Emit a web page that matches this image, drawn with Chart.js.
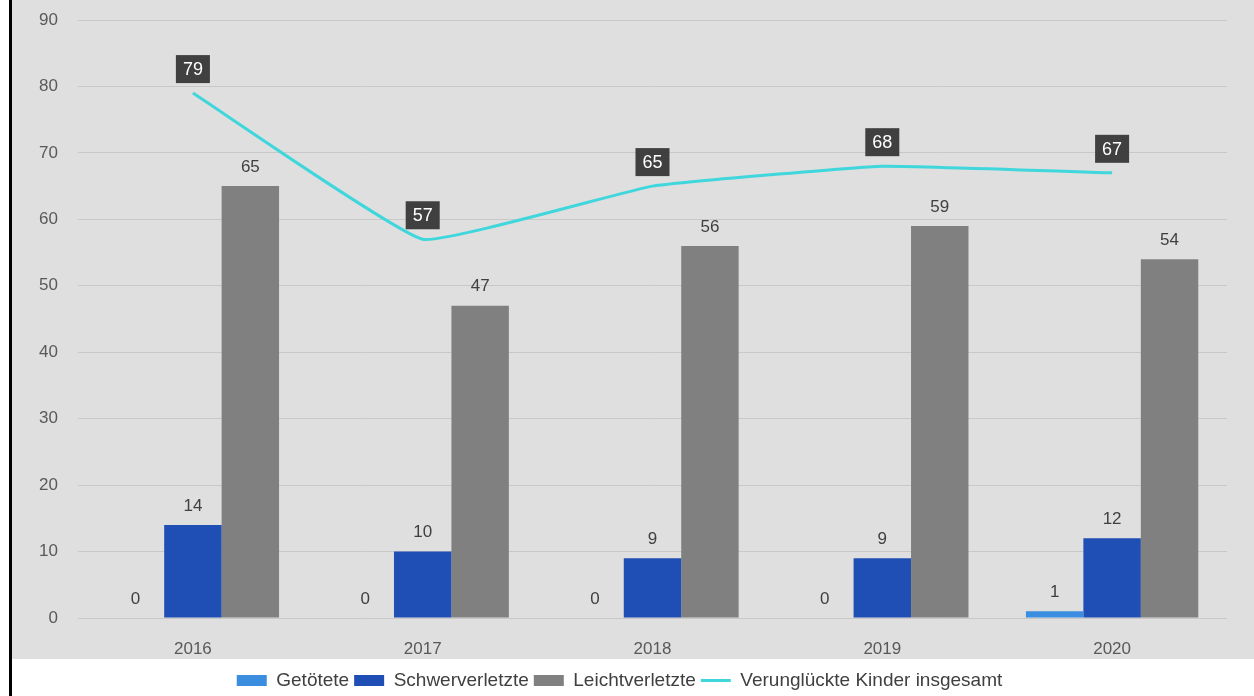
<!DOCTYPE html>
<html lang="de">
<head>
<meta charset="utf-8">
<title>Verunglückte Kinder 2016–2020</title>
<script src="https://cdn.jsdelivr.net/npm/chart.js@4/dist/chart.umd.min.js"></script>
<style>
    html, body { margin: 0; padding: 0; background: #fff; }
    #rand {
        position: absolute; left: 9px; top: 0;
        width: 3px; height: 696px; background: #000;
    }
    #wrap {
        position: absolute; left: 12px; top: 0;
        width: 1242px; height: 696px;
        background: linear-gradient(#dfdfdf 0, #dfdfdf 659px, #fff 659px);
    }
</style>
</head>
<body>
<div id="rand"></div>
<div id="wrap"><canvas id="kinder-chart"></canvas></div>
<script>
// Jahre und Werte
const jahre = ['2016', '2017', '2018', '2019', '2020'];
const getoetete = [0, 0, 0, 0, 1];
const schwerverletzte = [14, 10, 9, 9, 12];
const leichtverletzte = [65, 47, 56, 59, 54];
const insgesamt = [79, 57, 65, 68, 67];

const schrift = "'Liberation Sans', Arial, sans-serif";

// Beschriftungen über Balken und Linienpunkten
const wertLabels = {
    id: 'wertLabels',
    afterDatasetsDraw(chart) {
        const ctx = chart.ctx;
        ctx.save();
        ctx.textAlign = 'center';
        ctx.textBaseline = 'middle';
        chart.data.datasets.forEach((ds, i) => {
            const meta = chart.getDatasetMeta(i);
            meta.data.forEach((el, j) => {
                const text = String(ds.data[j]);
                if (ds.type === 'line') {
                    ctx.font = '18px ' + schrift;
                    const w = ctx.measureText(text).width + 14;
                    const h = 28;
                    const cy = el.y - 24;
                    ctx.fillStyle = '#404040';
                    ctx.fillRect(el.x - w / 2, cy - h / 2, w, h);
                    ctx.fillStyle = '#ffffff';
                    ctx.fillText(text, el.x, cy + 1);
                } else {
                    ctx.font = '17px ' + schrift;
                    ctx.fillStyle = '#404040';
                    ctx.fillText(text, el.x, el.y - 19);
                }
            });
        });
        ctx.restore();
    }
};

// Legende etwas tiefer setzen
const legendeVersatz = {
    id: 'legendeVersatz',
    afterLayout(chart) {
        if (chart.legend) {
            chart.legend.top += 4;
            chart.legend.bottom += 4;
        }
    }
};

const config = {
    data: {
        labels: jahre,
        datasets: [
            {
                type: 'line',
                label: 'Verunglückte Kinder insgesamt',
                data: insgesamt,
                borderColor: '#3fd6dc',
                backgroundColor: '#3fd6dc',
                borderWidth: 3,
                pointRadius: 0,
                pointStyle: 'line',
                tension: 0.1,
                order: 0
            },
            {
                type: 'bar',
                label: 'Getötete',
                data: getoetete,
                backgroundColor: '#3b8de0',
                pointStyle: 'rect',
                order: 1
            },
            {
                type: 'bar',
                label: 'Schwerverletzte',
                data: schwerverletzte,
                backgroundColor: '#1f4fb4',
                pointStyle: 'rect',
                order: 1
            },
            {
                type: 'bar',
                label: 'Leichtverletzte',
                data: leichtverletzte,
                backgroundColor: '#808080',
                pointStyle: 'rect',
                order: 1
            }
        ]
    },
    options: {
        responsive: true,
        maintainAspectRatio: false,
        animation: false,
        layout: { autoPadding: false, padding: { top: 20, right: 27, left: 0, bottom: 0 } },
        datasets: {
            bar: { categoryPercentage: 0.75, barPercentage: 1.0 }
        },
        scales: {
            x: {
                grid: { display: false },
                border: { display: false },
                ticks: { color: '#595959', font: { size: 17, family: schrift }, padding: 13 },
                afterFit(scale) { scale.height = 44; }
            },
            y: {
                min: 0,
                max: 90,
                grid: { color: '#c8c8c8', lineWidth: 1, drawTicks: false, tickLength: 0 },
                border: { display: false },
                ticks: { stepSize: 10, color: '#595959', font: { size: 17, family: schrift }, padding: 20 },
                afterFit(scale) {
                    scale.width = 66;
                    scale.paddingTop = 0;
                    scale.paddingBottom = 0;
                }
            }
        },
        plugins: {
            legend: {
                position: 'bottom',
                labels: {
                    usePointStyle: true,
                    pointStyleWidth: 30,
                    boxHeight: 11,
                    padding: 5,
                    color: '#404040',
                    font: { size: 19, family: schrift },
                    sort: (a, b) => (a.datasetIndex === 0) - (b.datasetIndex === 0)
                }
            },
            tooltip: { enabled: false }
        }
    },
    plugins: [wertLabels, legendeVersatz]
};

document.addEventListener('DOMContentLoaded', () => {
    new Chart(document.getElementById('kinder-chart').getContext('2d'), config);
});
</script>
</body>
</html>
